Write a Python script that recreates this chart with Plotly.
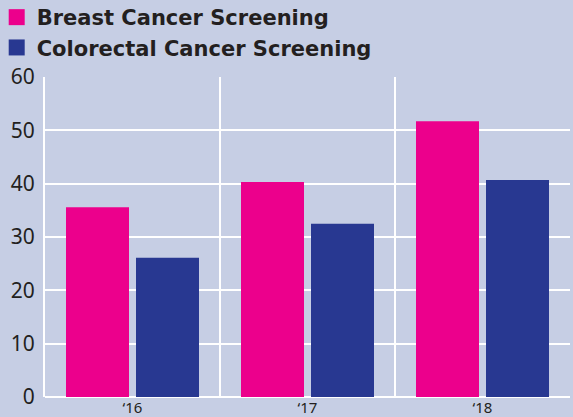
import plotly.graph_objects as go

years = ["‘16", "‘17", "‘18"]
breast = [35.6, 40.3, 51.7]
colorectal = [26.1, 32.5, 40.7]
series_names = ["Breast Cancer Screening", "Colorectal Cancer Screening"]
colors = ["#ec008c", "#283891"]
y_ticks = [0, 10, 20, 30, 40, 50, 60]

fig = go.Figure()
for name, vals, col in zip(series_names, [breast, colorectal], colors):
    fig.add_trace(go.Bar(x=years, y=vals, name=name, marker=dict(color=col, line=dict(width=0)),
                         showlegend=False))
    fig.add_trace(go.Scatter(x=[None], y=[None], mode="markers", name=name,
                             marker=dict(symbol="square", size=16, color=col)))

bg = "#c6cee4"
fig.update_layout(
    width=573, height=417,
    paper_bgcolor=bg, plot_bgcolor=bg,
    margin=dict(l=45, r=3, t=77, b=20, autoexpand=False),
    barmode="group", bargap=0.2, bargroupgap=0.1,
    font=dict(family="Noto Sans", color="#231f20"),
    legend=dict(x=-0.092, y=1.25, xanchor="left", yanchor="top",
                font=dict(family="DejaVu Sans", size=21, color="#231f20", weight="bold"),
                bgcolor="rgba(0,0,0,0)", tracegroupgap=0, itemwidth=30),
    showlegend=True,
)
fig.update_xaxes(type="category", tickson="boundaries", showgrid=True, gridcolor="white", gridwidth=2,
                 ticks="", tickfont=dict(size=15), showline=False, zeroline=False,
                 ticklabelstandoff=0)
fig.update_yaxes(range=[0, 60], tickvals=y_ticks, showgrid=True, gridcolor="white", gridwidth=2,
                 showline=True, linecolor="white", linewidth=2, zeroline=True, zerolinecolor="white",
                 zerolinewidth=2, tickfont=dict(size=21), ticks="", ticklabelstandoff=4)

fig.write_html("out.html", config={"displayModeBar": False},
               post_script="document.body.style.margin='0px';")
